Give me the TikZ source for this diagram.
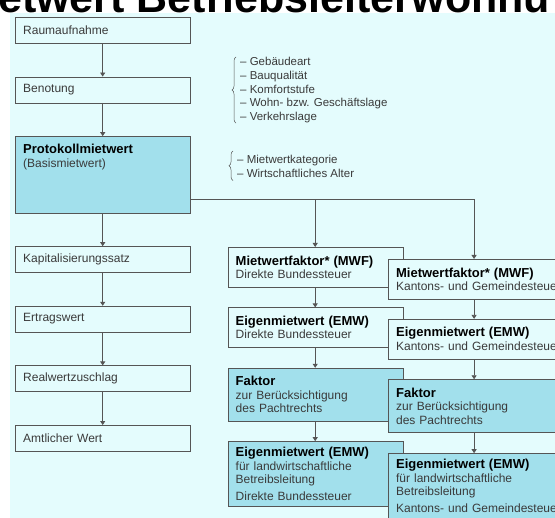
\documentclass[tikz,border=0pt]{standalone}
\usepackage{fontspec}
\setmainfont{Liberation Sans}
\usetikzlibrary{arrows.meta,positioning,decorations.pathreplacing}

\definecolor{bgcyan}{HTML}{E4FCFD}
\definecolor{boxdark}{HTML}{A2E0EC}
\definecolor{linegray}{HTML}{555555}
\definecolor{txtgray}{HTML}{3A3A3A}

\newcommand{\hd}[1]{{\fontsize{13}{13.5}\selectfont\bfseries\color{black}#1}}

\begin{document}
\begin{tikzpicture}[
  x=1pt, y=-1pt,
  node distance=33.2pt,
  font=\fontsize{12}{13.5}\selectfont,
  box/.style={draw=linegray, fill=bgcyan, text=txtgray, align=left, text width=159pt,
    inner xsep=8pt, inner ysep=4.5pt, minimum height=26pt, anchor=north west},
  darkbox/.style={box, fill=boxdark},
  wide/.style={text width=170pt},
  arr/.style={-{Triangle[length=4pt,width=5pt]}, draw=linegray, line width=0.8pt},
  lst/.style={text=txtgray, align=left, inner sep=0pt, anchor=north west,
    font=\fontsize{11.5}{13.75}\selectfont},
  brc/.style={decorate, decoration={brace, amplitude=4pt}, draw=linegray, line width=0.5pt}
]
\useasboundingbox (0,0) rectangle (555,518);
\fill[bgcyan] (10,13.5) rectangle (555,518);
\node[anchor=base west, inner sep=0pt, font=\fontsize{43}{43}\selectfont\bfseries] (title) at (-2,13) {etwert Betriebsleiterwohnu};

% left column
\node[box] (raum) at (15,17) {Raumaufnahme};
\node[box, below=of raum] (beno) {Benotung};
\node[darkbox, below=of beno, inner ysep=8pt, text depth=51pt] (proto) {\hd{Protokollmietwert}\\(Basismietwert)};
\node[box, below=of proto] (kap) {Kapitalisierungssatz};
\node[box, below=of kap] (ertrag) {Ertragswert};
\node[box, below=of ertrag] (realw) {Realwertzuschlag};
\node[box, below=of realw] (amtl) {Amtlicher Wert};

% middle column
\node[box, minimum height=40pt] (mwfd) at (227.5,247) {\hd{Mietwertfaktor* (MWF)}\\Direkte Bundessteuer};
\node[box, minimum height=40pt, below=20pt of mwfd] (emwd) {\hd{Eigenmietwert (EMW)}\\Direkte Bundessteuer};
\node[darkbox, minimum height=53pt, below=20pt of emwd] (faktd) {\hd{Faktor}\\zur Berücksichtigung\\des Pachtrechts};
\node[darkbox, minimum height=65pt, below=20pt of faktd] (landd) {\hd{Eigenmietwert (EMW)}\\für landwirtschaftliche\\Betreibsleitung\\[3pt]Direkte Bundessteuer};

% right column (runs past the edge)
\node[box, wide, minimum height=40pt, below right=12pt and -15pt of mwfd.north east] (mwfk) {\hd{Mietwertfaktor* (MWF)}\\Kantons- und Gemeindesteuer};
\node[box, wide, minimum height=40pt, below right=11.5pt and -15pt of emwd.north east] (emwk) {\hd{Eigenmietwert (EMW)}\\Kantons- und Gemeindesteuer};
\node[darkbox, wide, minimum height=53pt, below right=11.5pt and -15pt of faktd.north east] (faktk) {\hd{Faktor}\\zur Berücksichtigung\\des Pachtrechts};
\node[darkbox, wide, minimum height=65pt, below right=12pt and -15pt of landd.north east] (landk) {\hd{Eigenmietwert (EMW)}\\für landwirtschaftliche\\Betreibsleitung\\[3pt]Kantons- und Gemeindesteuer};

% criteria
\node[lst] (lage) at (240,57) {– Gebäudeart\\– Bauqualität\\– Komfortstufe\\– Wohn- bzw. Geschäftslage\\– Verkehrslage};
\node[lst] (alter) at (237,155) {– Mietwertkategorie\\– Wirtschaftliches Alter};
\draw[brc] ([xshift=-4pt]lage.south west) -- ([xshift=-4pt]lage.north west);
\draw[brc] ([xshift=-4pt,yshift=-3pt]alter.south west) -- ([xshift=-4pt,yshift=4pt]alter.north west);

% connectors
\draw[arr] (raum) -- (beno);
\draw[arr] (beno) -- (proto);
\draw[arr] (proto) -- (kap);
\draw[arr] (kap) -- (ertrag);
\draw[arr] (ertrag) -- (realw);
\draw[arr] (realw) -- (amtl);
\coordinate (split) at ([yshift=14pt]proto.south east);
\draw[arr] (split) -| (mwfd);
\draw[arr] (split) -| ([xshift=-7pt]mwfk.north);
\draw[arr] (mwfd) -- (emwd);
\draw[arr] (emwd) -- (faktd);
\draw[arr] (faktd) -- (landd);
\draw[arr] ([xshift=-7pt]mwfk.south) -- ([xshift=-7pt]emwk.north);
\draw[arr] ([xshift=-7pt]emwk.south) -- ([xshift=-7pt]faktk.north);
\draw[arr] ([xshift=-7pt]faktk.south) -- ([xshift=-7pt]landk.north);
\end{tikzpicture}
\end{document}
